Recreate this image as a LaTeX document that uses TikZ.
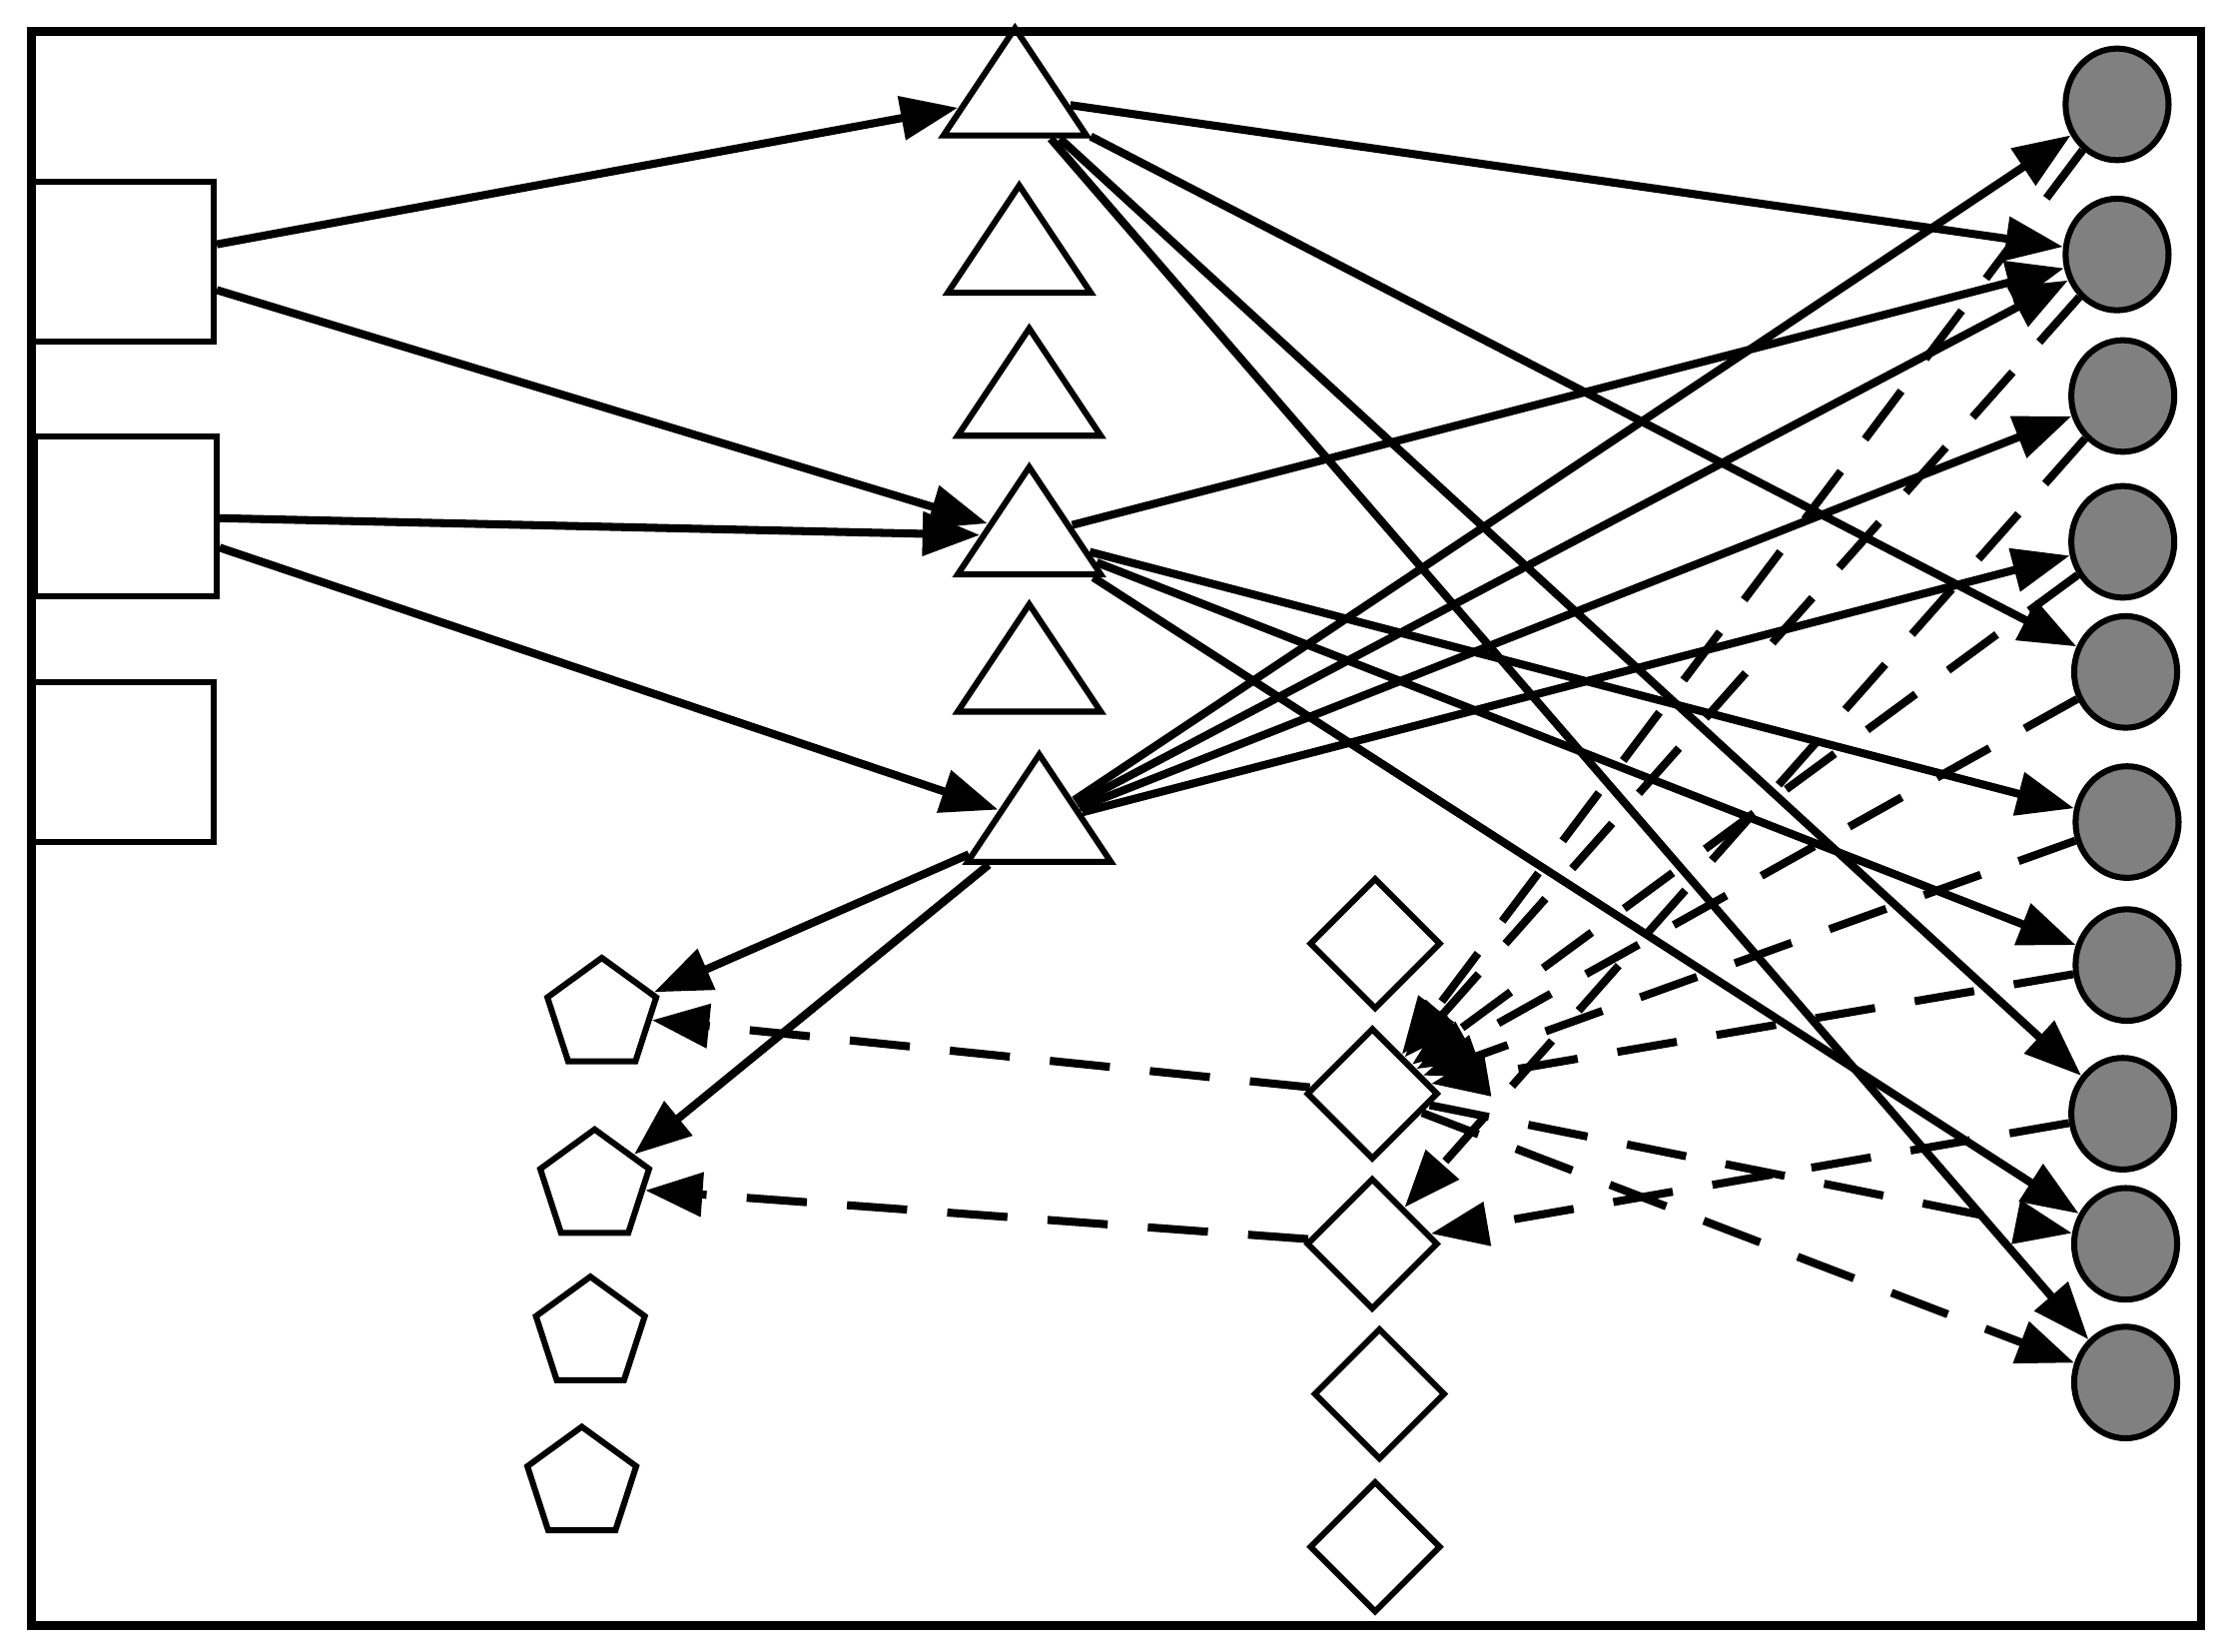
\documentclass[tikz,border=0pt]{standalone}
\usetikzlibrary{arrows.meta, shapes.geometric}
\begin{document}
\begin{tikzpicture}[
    x=0.01cm, y=-0.01cm,
    box/.style={rectangle, draw, line width=1.2pt, minimum width=1.27cm, minimum height=1.12cm, inner sep=0pt},
    tri/.style={isosceles triangle, isosceles triangle stretches, shape border rotate=90, draw, line width=1.2pt, minimum width=1cm, minimum height=0.75cm, inner sep=0pt},
    penta/.style={regular polygon, regular polygon sides=5, draw, line width=1.2pt, minimum size=0.8cm, inner sep=0pt},
    dia/.style={diamond, draw, line width=1.2pt, minimum width=0.92cm, minimum height=0.92cm, inner sep=0pt},
    dot/.style={ellipse, draw, line width=1.2pt, fill=gray, minimum width=0.72cm, minimum height=0.78cm, inner sep=0pt},
    arrow/.style={-{Triangle[length=0.4cm, width=0.3cm]}, line width=1.6pt},
    dasharrow/.style={arrow, dash pattern=on 12pt off 8pt},
]
    \useasboundingbox (0,0) rectangle (1560,1155);
    \draw[line width=1.6pt] (22,22) rectangle (1540,1137);

    \node[box] (r1) at (86,183) {};
    \node[box] (r2) at (88,361) {};
    \node[box] (r3) at (86,533) {};

    \node[tri] (t1) at (710,68) {};
    \node[tri] (t2) at (713,178) {};
    \node[tri] (t3) at (720,278) {};
    \node[tri] (t4) at (720,375) {};
    \node[tri] (t5) at (720,471) {};
    \node[tri] (t6) at (727,576) {};

    \node[penta] (p1) at (421,710) {};
    \node[penta] (p2) at (416,830) {};
    \node[penta] (p3) at (413,933) {};
    \node[penta] (p4) at (407,1038) {};

    \node[dia] (d1) at (962,660) {};
    \node[dia] (d2) at (960,765) {};
    \node[dia] (d3) at (960,870) {};
    \node[dia] (d4) at (965,975) {};
    \node[dia] (d5) at (962,1082) {};

    \node[dot] (c1) at (1481,73) {};
    \node[dot] (c2) at (1481,178) {};
    \node[dot] (c3) at (1485,277) {};
    \node[dot] (c4) at (1485,379) {};
    \node[dot] (c5) at (1487,470) {};
    \node[dot] (c6) at (1488,575) {};
    \node[dot] (c7) at (1488,675) {};
    \node[dot] (c8) at (1485,779) {};
    \node[dot] (c9) at (1487,870) {};
    \node[dot] (c10) at (1487,967) {};

    \draw[arrow] (r1) -- (t1);
    \draw[arrow] (r1) -- (t4);
    \draw[arrow] (r2) -- (t4);
    \draw[arrow] (r2) -- (t6);
    \foreach \c in {c2,c5,c8,c10} \draw[arrow] (t1) -- (\c);
    \foreach \c in {c2,c6,c7,c9} \draw[arrow] (t4) -- (\c);
    \foreach \c in {c1,c2,c3,c4} \draw[arrow] (t6) -- (\c);
    \draw[arrow] (t6) -- (p1);
    \draw[arrow] (t6) -- (p2);

    \foreach \c in {c1,c2,c4,c5,c6,c7} \draw[dasharrow] (\c) -- (d2);
    \draw[dasharrow] (c3) -- (d3);
    \draw[dasharrow] (c8) -- (d3);
    \draw[dasharrow] (d2) -- (c9);
    \draw[dasharrow] (d2) -- (c10);
    \draw[dasharrow] (d2) -- (p1);
    \draw[dasharrow] (d3) -- (p2);
\end{tikzpicture}
\end{document}
